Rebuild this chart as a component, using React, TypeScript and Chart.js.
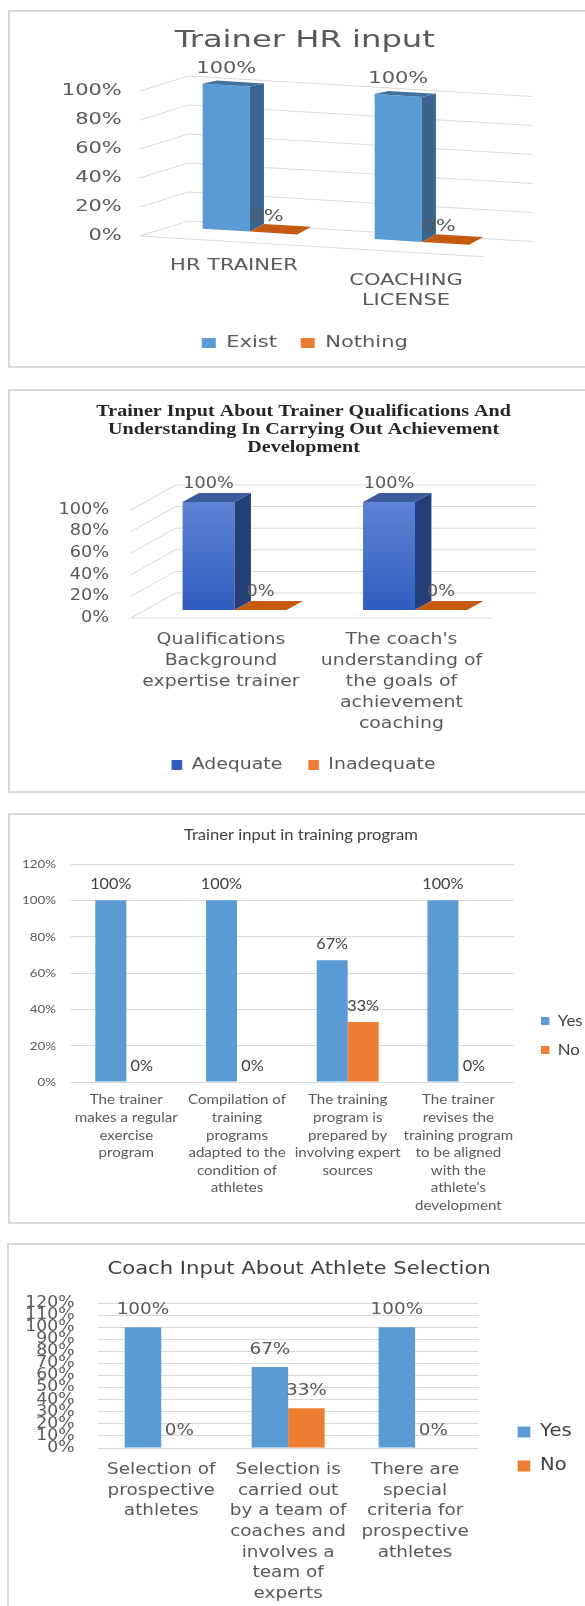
import { useEffect, useRef } from 'react';
import { Chart, registerables } from 'chart.js';

Chart.register(...registerables);

const SANS = "'DejaVu Sans', Verdana, sans-serif";
const LATO = "Lato, 'Open Sans', sans-serif";
const SERIF = "'Liberation Serif', 'Times New Roman', serif";
const GRID = '#d9d9d9';
const TEXT = '#595959';

// ---------------- Chart 1 data ----------------
const c1Title = 'Trainer HR input';
const c1Categories = [['HR TRAINER'], ['COACHING', 'LICENSE']];
const c1Series = ['Exist', 'Nothing'];
const c1Exist = [100, 100];
const c1Nothing = [0, 0];
const c1YMax = 100;
const c1YStep = 20;

// ---------------- Chart 2 data ----------------
const c2Title = [
  'Trainer Input About Trainer Qualifications And',
  'Understanding In Carrying Out Achievement',
  'Development',
];
const c2Categories = [
  ['Qualifications', 'Background', 'expertise trainer'],
  ["The coach's", 'understanding of', 'the goals of', 'achievement', 'coaching'],
];
const c2Series = ['Adequate', 'Inadequate'];
const c2Adequate = [100, 100];
const c2Inadequate = [0, 0];
const c2YMax = 100;
const c2YStep = 20;

// ---------------- Chart 3 data ----------------
const c3Title = 'Trainer input in training program';
const c3Categories = [
  ['The trainer', 'makes a regular', 'exercise', 'program'],
  ['Compilation of', 'training', 'programs', 'adapted to the', 'condition of', 'athletes'],
  ['The training', 'program is', 'prepared by', 'involving expert', 'sources'],
  ['The trainer', 'revises the', 'training program', 'to be aligned', 'with the', "athlete's", 'development'],
];
const c3Series = ['Yes', 'No'];
const c3Yes = [100, 100, 67, 100];
const c3No = [0, 0, 33, 0];
const c3YMax = 120;
const c3YStep = 20;

// ---------------- Chart 4 data ----------------
const c4Title = 'Coach Input About Athlete Selection';
const c4Categories = [
  ['Selection of', 'prospective', 'athletes'],
  ['Selection is', 'carried out', 'by a team of', 'coaches and', 'involves a', 'team of', 'experts'],
  ['There are', 'special', 'criteria for', 'prospective', 'athletes'],
];
const c4Series = ['Yes', 'No'];
const c4Yes = [100, 67, 100];
const c4No = [0, 33, 0];
const c4YMax = 120;
const c4YStep = 10;

const pct = (v: any) => v + '%';

// Horizontal stretch of the whole drawing (the reference is widened)
function stretchPlugin(sx: number) {
  return {
    id: 'stretch',
    beforeDraw(chart: any) {
      chart.ctx.save();
      chart.ctx.setTransform(sx, 0, 0, 1, 0, 0);
    },
    afterDraw(chart: any) {
      chart.ctx.restore();
    },
  };
}

// Value labels for flat charts
function valueLabelPlugin(font: string, color: string, offset: number) {
  return {
    id: 'valueLabels',
    afterDatasetsDraw(chart: any) {
      const ctx = chart.ctx;
      ctx.save();
      ctx.font = font;
      ctx.fillStyle = color;
      ctx.textAlign = 'center';
      ctx.textBaseline = 'middle';
      chart.data.datasets.forEach((ds: any, di: number) => {
        chart.getDatasetMeta(di).data.forEach((el: any, i: number) => {
          const p = el.getProps(['x', 'y'], true);
          ctx.fillText(pct(ds.data[i]), p.x, p.y + offset);
        });
      });
      ctx.restore();
    },
  };
}

// Pseudo 3-D: perspective walls, bar depth faces, labels
function box3dPlugin(o: any) {
  return {
    id: 'box3d',
    beforeDatasetsDraw(chart: any) {
      const ctx = chart.ctx;
      const a = chart.chartArea;
      const ys = chart.scales.y;
      const P = (x: number, y: number) => [x, y + o.k * (x - a.left)];
      ctx.save();
      ctx.strokeStyle = o.gridColor;
      ctx.lineWidth = 1;
      ctx.beginPath();
      ys.ticks.forEach((t: any) => {
        const y = ys.getPixelForValue(t.value);
        const A = P(a.left, y);
        const B = P(a.left + o.wallDx, y + o.wallDy);
        const C = P(a.right + o.wallDx, y + o.wallDy);
        ctx.moveTo(A[0], A[1]);
        ctx.lineTo(B[0], B[1]);
        ctx.lineTo(C[0], C[1]);
      });
      const y0 = ys.getPixelForValue(0);
      const F1 = P(a.left, y0);
      const F2 = P(a.right, y0);
      ctx.moveTo(F1[0], F1[1]);
      ctx.lineTo(F2[0], F2[1]);
      ctx.stroke();
      ctx.restore();
      ctx.save();
      ctx.transform(1, o.k, 0, 1, 0, -o.k * a.left);
      ctx.translate(o.midDx, o.midDy);
    },
    afterDatasetsDraw(chart: any) {
      const ctx = chart.ctx;
      const a = chart.chartArea;
      const poly = (pts: number[][], color: string) => {
        ctx.beginPath();
        ctx.moveTo(pts[0][0], pts[0][1]);
        for (let i = 1; i < pts.length; i++) ctx.lineTo(pts[i][0], pts[i][1]);
        ctx.closePath();
        ctx.fillStyle = color;
        ctx.fill();
      };
      const dx = o.depthDx;
      const dyT = o.depthDyTop;
      const dyB = o.depthDyBottom;
      const labels: any[] = [];
      chart.data.datasets.forEach((ds: any, di: number) => {
        chart.getDatasetMeta(di).data.forEach((el: any, i: number) => {
          const p = el.getProps(['x', 'y', 'base', 'width'], true);
          const l = p.x - p.width / 2;
          const r = p.x + p.width / 2;
          const top = Math.min(p.y, p.base);
          const bot = Math.max(p.y, p.base);
          const flat = bot - top <= 0.5;
          if (!flat) {
            poly([[r, top], [r + dx, top + dyT], [r + dx, bot + dyB], [r, bot]], o.sideColors[di]);
          }
          const d = flat ? dyB : dyT;
          poly([[l, top], [l + dx, top + d], [r + dx, top + d], [r, top]], o.topColors[di]);
          labels.push({ x: p.x, y: top, v: ds.data[i] });
        });
      });
      ctx.restore();
      const P = (x: number, y: number) => [x, y + o.k * (x - a.left)];
      ctx.save();
      ctx.font = o.labelFont;
      ctx.fillStyle = o.labelColor;
      ctx.textAlign = 'center';
      ctx.textBaseline = 'middle';
      labels.forEach((lb) => {
        const extra = lb.v === 0 ? o.zeroDx : 0;
        const q = P(lb.x + o.midDx + extra, lb.y + o.midDy + o.labelOffset);
        ctx.fillText(pct(lb.v), q[0], q[1]);
      });
      if (o.xLabels) {
        const xl = o.xLabels;
        const xs = chart.scales.x;
        ctx.font = xl.font;
        ctx.fillStyle = xl.color;
        xl.lines.forEach((lines: string[], i: number) => {
          const cx = xs.getPixelForValue(i);
          const yb = a.bottom + xl.dy + xl.slope * (cx - a.left);
          lines.forEach((t: string, j: number) => {
            ctx.fillText(t, cx + xl.dx, yb + j * xl.lineHeight);
          });
        });
      }
      ctx.restore();
    },
  };
}

const noGrid = { display: false, drawTicks: false };
const noBorder = { display: false };

function dummyRight(w: number) {
  return {
    position: 'right',
    grid: noGrid,
    border: noBorder,
    ticks: { display: false },
    afterFit: (s: any) => { s.width = w; },
  };
}

function chart1Config() {
  return {
    type: 'bar',
    data: {
      labels: c1Categories,
      datasets: [
        { label: c1Series[0], data: c1Exist, backgroundColor: '#5b9bd5', clip: false, xAxisID: 'x', yAxisID: 'y' },
        { label: c1Series[1], data: c1Nothing, backgroundColor: '#ed7d31', clip: false, xAxisID: 'x', yAxisID: 'y' },
      ],
    },
    options: {
      responsive: false,
      animation: false,
      events: [],
      layout: { padding: { top: 0, left: 0, right: 0, bottom: 7.5 } },
      datasets: { bar: { categoryPercentage: 0.55, barPercentage: 1 } },
      scales: {
        x: { grid: noGrid, border: noBorder, ticks: { display: false }, afterFit: (s: any) => { s.height = 82.5; } },
        y: {
          min: 0, max: c1YMax, grid: noGrid, border: noBorder,
          ticks: { stepSize: c1YStep, callback: pct, color: TEXT, font: { family: SANS, size: 15 }, padding: 13 },
          afterFit: (s: any) => { s.width = 94.3; },
        },
        yR: dummyRight(84),
      },
      plugins: {
        title: {
          display: true, text: c1Title, color: TEXT,
          font: { family: SANS, size: 23, weight: 'normal', lineHeight: 1.2 },
          padding: { top: 17.2, bottom: 36.2 },
        },
        legend: {
          position: 'bottom',
          labels: { boxWidth: 10, boxHeight: 10, padding: 17, color: TEXT, font: { family: SANS, size: 15 } },
        },
        tooltip: { enabled: false },
      },
    },
    plugins: [
      stretchPlugin(1.4),
      box3dPlugin({
        k: 0.084, wallDx: 34.6, wallDy: -18, midDx: 17.1, midDy: -11,
        depthDx: 10, depthDyTop: -4, depthDyBottom: -8.5,
        gridColor: GRID, sideColors: ['#3a6590', '#a84c0e'], topColors: ['#41719c', '#c55a11'],
        labelFont: `15px ${SANS}`, labelColor: TEXT, labelOffset: -16, zeroDx: -4.7,
        xLabels: { lines: c1Categories, font: `15px ${SANS}`, color: TEXT, lineHeight: 20, dx: 5.7, dy: 22.5, slope: 0.122 },
      }),
    ],
  };
}

function chart2Config() {
  const grad = (c: any) => {
    const chart = c.chart;
    const a = chart.chartArea;
    if (!a) return '#4472c4';
    const g = chart.ctx.createLinearGradient(0, a.top, 0, a.bottom);
    g.addColorStop(0, '#5d84d4');
    g.addColorStop(1, '#2e5ec0');
    return g;
  };
  return {
    type: 'bar',
    data: {
      labels: c2Categories,
      datasets: [
        { label: c2Series[0], data: c2Adequate, backgroundColor: grad, clip: false, xAxisID: 'x', yAxisID: 'y' },
        { label: c2Series[1], data: c2Inadequate, backgroundColor: '#ed7d31', clip: false, xAxisID: 'x', yAxisID: 'y' },
      ],
    },
    options: {
      responsive: false,
      animation: false,
      events: [],
      layout: { padding: { top: 0, left: 0, right: 0, bottom: 10 } },
      datasets: { bar: { categoryPercentage: 0.576, barPercentage: 1 } },
      scales: {
        x: {
          grid: noGrid, border: noBorder,
          ticks: { color: TEXT, font: { family: SANS, size: 16, lineHeight: 21 / 16 }, padding: 11.5, autoSkip: false, maxRotation: 0 },
          afterFit: (s: any) => { s.height = 117; },
        },
        y: {
          min: 0, max: c2YMax, grid: noGrid, border: noBorder,
          ticks: { stepSize: c2YStep, callback: pct, color: TEXT, font: { family: SANS, size: 15 }, padding: 18.4 },
          afterFit: (s: any) => { s.width = 104; },
        },
        yR: dummyRight(91.1),
      },
      plugins: {
        title: {
          display: true, text: c2Title, color: '#262626',
          font: { family: SERIF, size: 17, weight: 'bold', lineHeight: 18 / 17 },
          padding: { top: 14, bottom: 53 },
        },
        legend: {
          position: 'bottom',
          labels: { boxWidth: 9, boxHeight: 10, padding: 22, color: TEXT, font: { family: SANS, size: 16 } },
        },
        tooltip: { enabled: false },
      },
    },
    plugins: [
      stretchPlugin(1.18),
      box3dPlugin({
        k: 0, wallDx: 38, wallDy: -25, midDx: 11.5, midDy: -8,
        depthDx: 13.9, depthDyTop: -9, depthDyBottom: -9,
        gridColor: GRID, sideColors: ['#243f78', '#a84c0e'], topColors: ['#3d5b9b', '#c55a11'],
        labelFont: `15px ${SANS}`, labelColor: TEXT, labelOffset: -18, zeroDx: 0,
      }),
    ],
  };
}

function flatConfig(p: any) {
  return {
    type: 'bar',
    data: {
      labels: p.categories,
      datasets: [
        { label: p.series[0], data: p.a, backgroundColor: '#5b9bd5', clip: false, xAxisID: 'x', yAxisID: 'y' },
        { label: p.series[1], data: p.b, backgroundColor: '#ed7d31', clip: false, xAxisID: 'x', yAxisID: 'y' },
      ],
    },
    options: {
      responsive: false,
      animation: false,
      events: [],
      layout: { padding: { top: 0, bottom: 0, left: p.padSide, right: p.padSide } },
      datasets: { bar: { categoryPercentage: p.catPct, barPercentage: 1 } },
      scales: {
        x: {
          grid: noGrid, border: noBorder,
          ticks: { color: TEXT, font: { family: p.family, size: p.xFont, lineHeight: p.xLine / p.xFont }, padding: p.xPad, autoSkip: false, maxRotation: 0 },
          afterFit: (s: any) => { s.height = p.xHeight; },
        },
        y: {
          min: 0, max: p.yMax,
          grid: { color: GRID, lineWidth: 1, drawTicks: false },
          border: noBorder,
          ticks: { stepSize: p.yStep, callback: pct, color: TEXT, font: { family: p.family, size: p.yFont }, padding: p.yPad, autoSkip: false, maxTicksLimit: 20 },
          afterFit: (s: any) => { s.width = p.yWidth - p.padSide; },
        },
        yR: dummyRight(p.rightGap - p.padSide),
      },
      plugins: {
        title: {
          display: true, text: p.title, color: '#404040',
          font: { family: p.family, size: p.titleFont, weight: 'normal', lineHeight: 1.2 },
          padding: { top: p.titleTop, bottom: p.titleBottom },
        },
        legend: {
          position: 'right',
          title: { display: true, text: '', font: { size: 10, lineHeight: 1 }, padding: { top: p.legendShift - 10, bottom: 0 } },
          labels: { boxWidth: p.box, boxHeight: p.boxH, padding: p.legendPad, color: '#404040', font: { family: p.family, size: p.legendFont } },
        },
        tooltip: { enabled: false },
      },
    },
    plugins: [stretchPlugin(p.s), valueLabelPlugin(p.labelFont, p.labelColor, p.labelOffset)],
  };
}

function chart3Config() {
  const titleFont = 14.8;
  return flatConfig({
    categories: c3Categories, series: c3Series, a: c3Yes, b: c3No, yMax: c3YMax, yStep: c3YStep,
    title: c3Title, family: LATO, s: 1.12, catPct: 0.56, padSide: 0,
    xFont: 13.5, xLine: 17.6, xPad: 9.2, xHeight: 142,
    yFont: 12, yPad: 13.3, yWidth: 56.2, rightGap: 10.3,
    titleFont, titleTop: 22 - titleFont * 0.6, titleBottom: 51 - (22 + titleFont * 0.6),
    box: 7.5, boxH: 8, legendPad: 14, legendFont: 15, legendShift: 34,
    labelFont: `14.5px ${LATO}`, labelColor: '#404040', labelOffset: -16,
  });
}

function chart4Config() {
  const titleFont = 18.4;
  return flatConfig({
    categories: c4Categories, series: c4Series, a: c4Yes, b: c4No, yMax: c4YMax, yStep: c4YStep,
    title: c4Title, family: SANS, s: 1.15, catPct: 0.575, padSide: 7,
    xFont: 16, xLine: 20.6, xPad: 11.7, xHeight: 158,
    yFont: 15, yPad: 20.1, yWidth: 78.9, rightGap: 24,
    titleFont, titleTop: 26 - titleFont * 0.6, titleBottom: 60 - (26 + titleFont * 0.6),
    box: 11, boxH: 11, legendPad: 17, legendFont: 17, legendShift: 49,
    labelFont: `16px ${SANS}`, labelColor: TEXT, labelOffset: -17,
  });
}

function mountChart(canvas: HTMLCanvasElement, config: any, wl: number, h: number, s: number) {
  const wp = Math.round(wl * s);
  canvas.width = wl;
  canvas.height = h;
  canvas.style.width = wp + 'px';
  canvas.style.height = h + 'px';
  const chart: any = new Chart(canvas, config);
  canvas.width = wp;
  chart.draw();
  return chart;
}

function ChartBox(props: any) {
  const ref = useRef<HTMLCanvasElement>(null);
  const { left, top, height, wl, s, make, bottomBorder } = props;
  useEffect(() => {
    const chart = mountChart(ref.current as HTMLCanvasElement, make(), wl, height, s);
    return () => chart.destroy();
  }, []);
  return (
    <div style={{ position: 'absolute', left, top, width: 585 - left, height, overflow: 'hidden' }}>
      <div
        style={{
          position: 'absolute', left: 0, top: 0, width: 700, height,
          boxSizing: 'border-box',
          borderLeft: '2px solid #d9d9d9',
          borderTop: '2px solid #d9d9d9',
          borderBottom: bottomBorder ? '2px solid #d9d9d9' : 'none',
        }}
      />
      <canvas ref={ref} style={{ position: 'absolute', left: 0, top: 0 }} />
    </div>
  );
}

export default function App() {
  return (
    <div style={{ background: '#ffffff' }}>
      <ChartBox left={8} top={10} height={358} wl={424} s={1.4} make={chart1Config} bottomBorder />
      <ChartBox left={8} top={389} height={404} wl={501} s={1.18} make={chart2Config} bottomBorder />
      <ChartBox left={8} top={813} height={411} wl={523} s={1.12} make={chart3Config} bottomBorder />
      <ChartBox left={7} top={1243} height={363} wl={508} s={1.15} make={chart4Config} bottomBorder={false} />
    </div>
  );
}
